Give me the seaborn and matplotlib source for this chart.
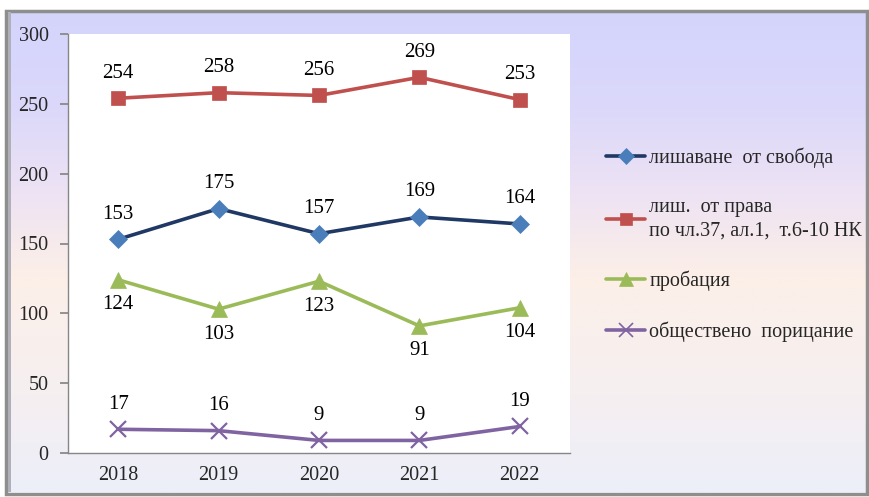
import numpy as np
import pandas as pd
import matplotlib.pyplot as plt
import seaborn as sns
from matplotlib.colors import LinearSegmentedColormap
from matplotlib.lines import Line2D
from matplotlib.patches import Rectangle

# data
years = ['2018', '2019', '2020', '2021', '2022']
deprivation_liberty = [153, 175, 157, 169, 164]
deprivation_rights = [254, 258, 256, 269, 253]
probation = [124, 103, 123, 91, 104]
public_censure = [17, 16, 9, 9, 19]

labels = ['лишаване  от свобода',
          'лиш.  от права\nпо чл.37, ал.1,  т.6-10 НК',
          'пробация',
          'обществено  порицание']

sns.set_theme(style='white')
plt.rcParams['font.family'] = ['Liberation Serif', 'DejaVu Serif']

fig = plt.figure(figsize=(8.69, 4.97), dpi=100)

# background panel with a soft vertical gradient
bg = fig.add_axes([0, 0, 1, 1], zorder=-5)
bg.set_xlim(0, 869)
bg.set_ylim(497, 0)
bg.axis('off')
grad = LinearSegmentedColormap.from_list('bg', [
    (0.00, '#d4d4fc'), (0.20, '#dbd8fa'), (0.35, '#ebe1f5'),
    (0.55, '#fcefe8'), (0.80, '#f6eff1'), (1.00, '#eceef9')])
g = np.linspace(0, 1, 256).reshape(-1, 1)
bg.imshow(g, cmap=grad, extent=[8, 866, 492, 12], aspect='auto')
bg.add_patch(Rectangle((6, 11), 861, 483, fill=False, ec='#8e8e8e', lw=2.5))
bg.add_patch(Rectangle((8, 12), 3, 480, color='#b0b0b8', lw=0))

ax = fig.add_axes([68 / 869, 1 - 453 / 497, 502 / 869, 419 / 497])
ax.set_facecolor('white')

series = [
    (deprivation_liberty, '#1f3864', '#4a7ebb', 'D', 9, 'above'),
    (deprivation_rights, '#c0504d', '#c0504d', 's', 10, 'above'),
    (probation, '#9bbb59', '#9bbb59', '^', 11, 'below'),
    (public_censure, '#8064a2', '#8064a2', 'x', 11, 'above'),
]

handles = []
for (vals, lc, mc, mk, ms, pos), lab in zip(series, labels):
    df = pd.DataFrame({'year': years, 'value': vals})
    sns.lineplot(data=df, x='year', y='value', ax=ax, color=lc, lw=2.6,
                 marker=mk, markersize=ms, markerfacecolor=mc,
                 markeredgecolor=mc, markeredgewidth=1.6 if mk == 'x' else 0.5)
    dy = 18 if pos == 'above' else -18
    for i, v in enumerate(vals):
        ax.annotate(str(v), (i, v), xytext=(0, dy), textcoords='offset points',
                    ha='center', va='center', fontsize=15, color='black')
    handles.append(Line2D([], [], color=lc, lw=2.6, marker=mk,
                          markersize=ms - 1, markerfacecolor=mc,
                          markeredgecolor=mc,
                          markeredgewidth=1.2 if mk == 'x' else 0.5))

ax.set_xlim(-0.5, 4.5)
ax.set_ylim(0, 300)
ax.set_yticks(range(0, 301, 50))
ax.set_xticks(range(5))
ax.set_xticklabels(years)
ax.set_xticks(np.arange(-0.5, 5, 1), minor=True)
ax.tick_params(axis='x', which='major', length=0, labelsize=14.5, pad=9)
ax.tick_params(axis='x', which='minor', length=6, color='#868686', direction='out')
ax.tick_params(axis='y', length=6, color='#868686', direction='out',
               labelsize=14.5, pad=8, left=True)
ax.set_xlabel('')
ax.set_ylabel('')
for side in ['top', 'right']:
    ax.spines[side].set_visible(False)
for side in ['left', 'bottom']:
    ax.spines[side].set_color('#868686')
    ax.spines[side].set_linewidth(1)

leg = fig.legend(handles, labels, loc='upper left',
                 bbox_to_anchor=(598 / 869, 1 - 139 / 497),
                 frameon=False, fontsize=14.5, handlelength=1.95,
                 handletextpad=0.2, labelspacing=1.5, borderaxespad=0)
for t in leg.get_texts():
    t.set_linespacing(1.35)

fig.savefig('out.png', dpi=100)
